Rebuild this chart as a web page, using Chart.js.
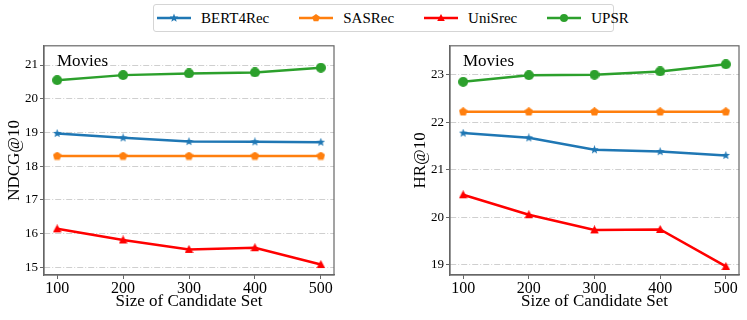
<!DOCTYPE html>
<html>
<head>
<meta charset="utf-8">
<script src="https://cdn.jsdelivr.net/npm/chart.js@4.4.0/dist/chart.umd.min.js"></script>
<style>
  body { margin: 0; background: #fff; width: 747px; height: 320px; position: relative; overflow: hidden;
         font-family: "Liberation Serif", "Times New Roman", serif; }
  #legend { position: absolute; left: 153px; top: 4px; width: 456px; height: 26px;
            border: 1px solid #d5d5d5; border-radius: 3px; display: flex; align-items: center;
            padding-left: 3px; box-sizing: content-box; gap: 30px; }
  .item { display: flex; align-items: center; font-size: 15px; color: #000; }
  .item canvas { margin-right: 10px; }
  .c { position: absolute; top: 36px; height: 284px; }
</style>
</head>
<body>
<div id="legend"></div>
<div class="c" style="left:0;width:373px"><canvas id="left"></canvas></div>
<div class="c" style="left:373px;width:374px"><canvas id="right"></canvas></div>

<script>
// candidate set sizes
const sizes = [100, 200, 300, 400, 500];
const panelTitle = 'Movies';

// NDCG@10
const ndcgBERT = [18.97, 18.84, 18.73, 18.72, 18.71];
const ndcgSAS  = [18.30, 18.30, 18.30, 18.30, 18.30];
const ndcgUni  = [16.14, 15.81, 15.53, 15.58, 15.08];
const ndcgUPSR = [20.55, 20.70, 20.75, 20.78, 20.92];

// HR@10
const hrBERT = [21.77, 21.67, 21.42, 21.38, 21.30];
const hrSAS  = [22.22, 22.22, 22.22, 22.22, 22.22];
const hrUni  = [20.47, 20.05, 19.73, 19.74, 18.96];
const hrUPSR = [22.85, 22.99, 23.00, 23.07, 23.22];

const ndcgTicks = [15, 16, 17, 18, 19, 20, 21];
const hrTicks = [19, 20, 21, 22, 23];

const models = [
  { name: 'BERT4Rec', color: '#1f77b4', shape: 'star',     size: 9 },
  { name: 'SASRec',   color: '#ff7f0e', shape: 'pentagon', size: 9 },
  { name: 'UniSrec',  color: '#ff0000', shape: 'triangle', size: 9 },
  { name: 'UPSR',     color: '#2ca02c', shape: 'circle',   size: 10 }
];

function drawShape(ctx, shape, cx, cy, r) {
  ctx.beginPath();
  if (shape === 'circle') {
    ctx.arc(cx, cy, r, 0, Math.PI * 2);
  } else if (shape === 'triangle') {
    ctx.moveTo(cx, cy - r);
    ctx.lineTo(cx + r * 0.95, cy + r * 0.75);
    ctx.lineTo(cx - r * 0.95, cy + r * 0.75);
  } else if (shape === 'pentagon') {
    for (let i = 0; i < 5; i++) {
      const a = -Math.PI / 2 + i * 2 * Math.PI / 5;
      ctx.lineTo(cx + r * Math.cos(a), cy + r * Math.sin(a));
    }
  } else if (shape === 'star') {
    for (let i = 0; i < 10; i++) {
      const a = -Math.PI / 2 + i * Math.PI / 5;
      const rr = i % 2 ? r * 0.42 : r;
      ctx.lineTo(cx + rr * Math.cos(a), cy + rr * Math.sin(a));
    }
  }
  ctx.closePath();
  ctx.fill();
}

function makeMarker(m, size) {
  const c = document.createElement('canvas');
  c.width = size; c.height = size;
  const ctx = c.getContext('2d');
  ctx.fillStyle = m.color;
  drawShape(ctx, m.shape, size / 2, size / 2, size / 2);
  return c;
}

// legend: line with a marker in the middle
const legend = document.getElementById('legend');
models.forEach(m => {
  const item = document.createElement('div');
  item.className = 'item';
  const c = document.createElement('canvas');
  c.width = 34; c.height = 12;
  const ctx = c.getContext('2d');
  ctx.strokeStyle = m.color; ctx.lineWidth = 2.5;
  ctx.beginPath(); ctx.moveTo(0, 6); ctx.lineTo(34, 6); ctx.stroke();
  ctx.fillStyle = m.color;
  drawShape(ctx, m.shape, 17, 6, m.shape === 'star' ? 4.5 : 4);
  item.appendChild(c);
  const t = document.createElement('span');
  t.textContent = m.name;
  item.appendChild(t);
  legend.appendChild(item);
});

const framePlugin = {
  id: 'frame',
  afterDraw(chart) {
    const { ctx, chartArea: a } = chart;
    ctx.save();
    ctx.strokeStyle = '#666';
    ctx.lineWidth = 1.2;
    ctx.strokeRect(a.left, a.top, a.right - a.left, a.bottom - a.top);
    ctx.fillStyle = '#000';
    ctx.font = '17px "Liberation Serif"';
    ctx.textBaseline = 'alphabetic';
    ctx.fillText(panelTitle, a.left + 13, a.top + 20);
    ctx.restore();
  }
};

function makeChart(id, seriesList, yTitle, yTicks, yMin, yMax, padLeft, padRight) {
  const datasets = seriesList.map((vals, i) => {
    const m = models[i];
    return {
      label: m.name,
      data: sizes.map((s, j) => ({ x: s, y: vals[j] })),
      borderColor: m.color,
      backgroundColor: m.color,
      borderWidth: 2.5,
      pointStyle: makeMarker(m, m.size),
      pointRadius: m.size / 2,
      tension: 0
    };
  });
  return new Chart(document.getElementById(id), {
    type: 'line',
    data: { datasets },
    options: {
      responsive: true,
      maintainAspectRatio: false,
      animation: false,
      layout: { padding: { left: padLeft, right: padRight, top: 9, bottom: 0 } },
      plugins: { legend: { display: false }, tooltip: { enabled: false } },
      scales: {
        x: {
          type: 'linear',
          min: 80, max: 520,
          afterBuildTicks: ax => { ax.ticks = sizes.map(v => ({ value: v })); },
          afterFit: ax => { ax.height = 45; },
          grid: { drawOnChartArea: false, drawTicks: true, tickLength: 4, tickColor: '#666' },
          border: { display: true, color: '#666', width: 1.2 },
          ticks: { color: '#000', font: { family: 'Liberation Serif', size: 16 }, padding: 0, maxRotation: 0 },
          title: { display: true, text: 'Size of Candidate Set', color: '#000',
                   font: { family: 'Liberation Serif', size: 17 }, padding: { top: 0, bottom: 8 } }
        },
        y: {
          min: yMin, max: yMax,
          afterBuildTicks: ax => { ax.ticks = yTicks.map(v => ({ value: v })); },
          afterFit: ax => { ax.width = 44; },
          grid: { color: '#cfcfcf', lineWidth: 1, tickLength: 4, tickColor: '#666' },
          border: { display: true, color: '#666', width: 1.2, dash: [6, 2, 1, 2] },
          ticks: { color: '#000', font: { family: 'Liberation Serif', size: 13 }, padding: 2 },
          title: { display: true, text: yTitle, color: '#000',
                   font: { family: 'Liberation Serif', size: 17 }, padding: { top: 4, bottom: 0 } }
        }
      }
    },
    plugins: [framePlugin]
  });
}

makeChart('left', [ndcgBERT, ndcgSAS, ndcgUni, ndcgUPSR], 'NDCG@10', ndcgTicks, 14.77, 21.57, 0, 39);
makeChart('right', [hrBERT, hrSAS, hrUni, hrUPSR], 'HR@10', hrTicks, 18.78, 23.61, 33, 8);
</script>
</body>
</html>
